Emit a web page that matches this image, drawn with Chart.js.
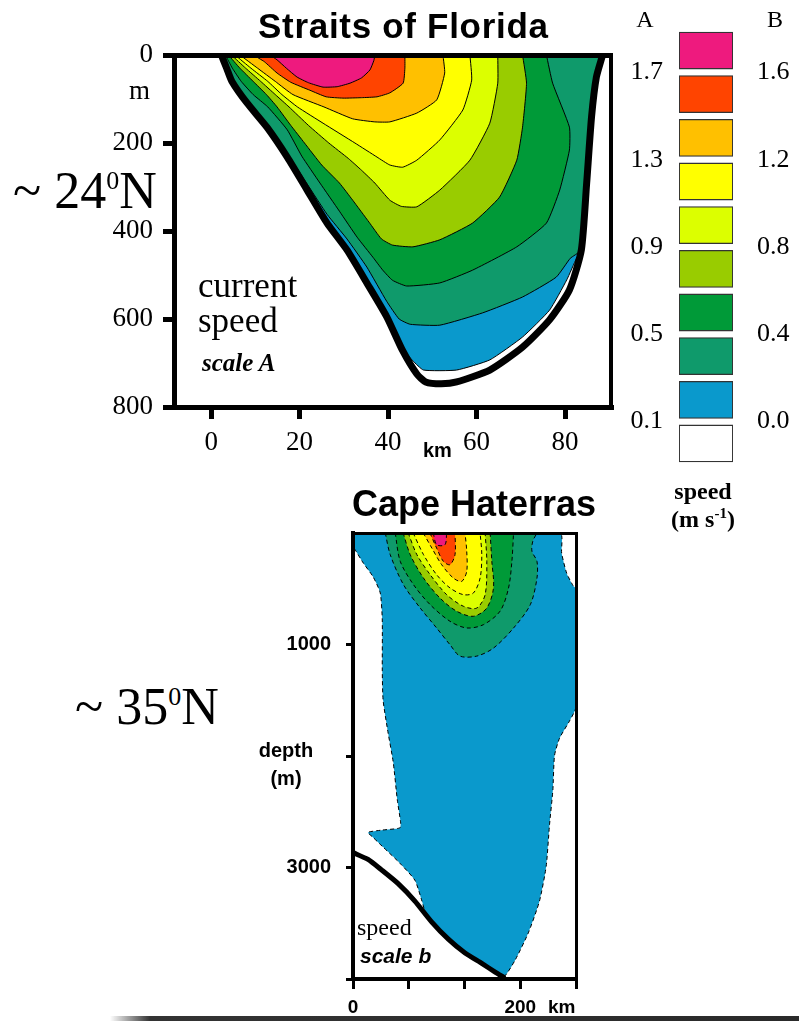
<!DOCTYPE html>
<html>
<head>
<meta charset="utf-8">
<script src="https://cdn.jsdelivr.net/npm/chart.js@4.4.1/dist/chart.umd.min.js"></script>
<style>
  html, body { margin: 0; padding: 0; background: #fff; overflow: hidden; }
  #page { position: relative; width: 799px; height: 1021px; }
  canvas { position: absolute; }
  .t { position: absolute; white-space: nowrap; color: #000; }
  .serif { font-family: 'Liberation Serif', 'Times New Roman', serif; }
  .sans { font-family: 'Liberation Sans', Arial, sans-serif; }
  sup { line-height: 0; }
</style>
</head>
<body>
<div id="page">
  <canvas id="florida" width="640" height="470" style="left:0;top:0"></canvas>
  <canvas id="haterras" width="340" height="501" style="left:250px;top:520px"></canvas>
  <canvas id="legend" width="199" height="480" style="left:600px;top:0"></canvas>

  <div class="t sans" style="left:258px;top:8px;font-weight:bold;font-size:35px;line-height:35px;letter-spacing:0.7px">Straits of Florida</div>
  <div class="t serif" style="right:649px;top:77px;font-size:27px;line-height:27px">m</div>
  <div class="t sans" style="left:423px;top:440px;font-weight:bold;font-size:20px;line-height:20px">km</div>
  <div class="t serif" style="left:198px;top:268px;font-size:35px;line-height:35px">current<br>speed</div>
  <div class="t serif" style="left:202px;top:350px;font-style:italic;font-weight:bold;font-size:25px;line-height:25px">scale A</div>
  <div class="t serif" style="left:13px;top:165px;font-size:52px;line-height:52px">~ 24<sup style="font-size:26px;vertical-align:19px">0</sup>N</div>

  <div class="t serif" style="left:635px;top:7px;width:20px;text-align:center;font-size:24px;line-height:24px">A</div>
  <div class="t serif" style="left:765px;top:7px;width:20px;text-align:center;font-size:24px;line-height:24px">B</div>
  <div class="t serif" style="left:653px;top:477px;width:100px;text-align:center;font-weight:bold;font-size:24px;line-height:28px">speed<br>(m s<sup style="font-size:15px;vertical-align:9px">-1</sup>)</div>

  <div class="t sans" style="left:352px;top:486px;font-weight:bold;font-size:36px;line-height:36px">Cape Haterras</div>
  <div class="t serif" style="left:75px;top:681px;font-size:52px;line-height:52px">~ 35<sup style="font-size:26px;vertical-align:19px">0</sup>N</div>
  <div class="t sans" style="left:236px;top:736px;width:100px;text-align:center;font-weight:bold;font-size:20px;line-height:28px">depth<br>(m)</div>
  <div class="t serif" style="left:357px;top:915px;font-size:24px;line-height:24px">speed</div>
  <div class="t sans" style="left:360px;top:945px;font-style:italic;font-weight:bold;font-size:21px;line-height:21px">scale b</div>
  <div class="t sans" style="left:548px;top:997px;font-weight:bold;font-size:19px;line-height:19px">km</div>
  <div style="position:absolute;left:110px;top:1016px;width:689px;height:5px;background:linear-gradient(to right, rgba(40,40,40,0), #333 40px, #2a2a2a)"></div>
</div>

<script>
// Straits of Florida: [distance km, depth m]
const floridaKmTicks = [0, 20, 40, 60, 80];
const floridaDepthTicks = [0, 200, 400, 600, 800];
const floridaWall = [[2.3,0],[3.5,30],[4.7,60],[8.1,109],[12.6,164],[17.2,232],[21.7,307],[26.2,382],[30.7,443],[35.2,518],[39.7,595],[43.3,672],[46.5,725],[48.5,743],[52,747],[55.5,743],[63,716],[70.4,664],[76.5,602],[81,534],[83.7,443],[84.9,291],[86,141],[87.1,50],[88.5,0]];
const floridaBlue = [[2.3,0],[3.5,30],[4.7,60],[8.1,109],[12.6,164],[17.2,232],[21.7,307],[26.2,382],[30.7,443],[35.2,518],[39.7,595],[43.3,668],[45.6,695],[48,716],[55.5,716],[63,693],[70.4,641],[76.5,580],[80.4,511],[82.6,462],[83.7,443],[84.9,291],[86,141],[87.1,50],[88.5,0]];
const floridaTeal = [[2.3,0],[3.5,30],[4.7,60],[8.1,109],[12.6,164],[17.2,224],[21.7,293],[26.2,362],[30.7,418],[35.2,482],[39.7,560],[42.5,600],[45,612],[51.7,614],[61.4,586],[70.4,550],[78,505],[81.2,462],[83.4,445],[84.9,291],[86,141],[87.1,50],[88.5,0]];
const floridaGreen = [[3.2,0],[4.8,30],[6.8,60],[9.5,90],[12.8,118],[17.2,170],[20.5,230],[24.6,291],[29,355],[33,414],[36.6,460],[38.8,489],[41,512],[44.2,525],[51.7,518],[59.1,489],[69.1,436],[75.8,382],[78.8,307],[81,216],[81,164],[77.2,64],[75.8,0]];
const floridaOlive = [[3.9,0],[6.5,30],[9.5,60],[12.5,90],[14.9,118],[18,160],[21.1,200],[25,250],[29,291],[32,330],[35.7,380],[38.5,418],[41,432],[45.6,436],[51.7,420],[59.1,382],[65.2,323],[69.1,239],[70.4,164],[71.3,64],[70.4,0]];
const floridaLime = [[4.6,0],[7.8,30],[11.2,60],[14.5,90],[17.6,118],[22,160],[26.6,200],[31,235],[34,262],[37,291],[40.4,330],[43,344],[46.5,345],[51.7,307],[58.5,239],[63,155],[64.8,64],[64.8,0]];
const floridaYellow = [[5.4,0],[9,30],[12.8,60],[16,90],[19.5,118],[25.3,155],[32.5,200],[37.5,232],[40.4,250],[43.3,255],[46.5,239],[51.7,193],[56.9,125],[58.9,57],[58.5,0]];
const floridaOrange = [[6.5,0],[10.5,30],[14.5,60],[18.5,90],[25.5,118],[32,145],[37,152],[40.4,152],[46.5,132],[51,102],[52.8,41],[52.4,0]];
const floridaRed = [[9.5,0],[12,15],[14.9,41],[18,62],[22.3,80],[26,95],[29.8,98],[34,97],[37.5,95],[40.4,86],[43.4,64],[43.8,30],[43.8,0]];
const floridaPink = [[13.3,0],[14.9,11],[17,30],[19.4,50],[22,63],[25.3,73],[28.5,72],[31.4,64],[34,52],[35.9,34],[36.8,12],[37,0]];

// Cape Haterras: [distance km, depth m]
const haterrasKmTicks = [0, 66.67, 133.33, 200, 266.67];
const haterrasKmLabels = ['0', '', '', '200', ''];
const haterrasDepthTicks = [1000, 2000, 3000, 4000];
const haterrasDepthLabels = ['1000', '', '3000', ''];
const haterrasBottom = [[0,2866],[18,2928],[34,3021],[54,3145],[74,3301],[94,3487],[114,3643],[134,3767],[154,3860],[170,3938],[180,3984]];
const haterrasBlue = [[0,0],[247.5,0],[249.5,180],[255.5,360],[263,470],[266.7,500],[266.7,1560],[259,1685],[247,1840],[241,1995],[239,2306],[235,2617],[231,2990],[223,3301],[210,3580],[194,3829],[180,3984],[170,3938],[154,3860],[134,3767],[114,3643],[94,3487],[88,3440],[82,3290],[74,3114],[56,2961],[36,2817],[24,2730],[18,2685],[34,2665],[56,2645],[57,2600],[53,2395],[48,2050],[42,1794],[36,1500],[35,1229],[35,780],[32.6,538],[24.2,395],[12.3,269],[2.7,153],[0,120]];
const haterrasTeal = [[38.6,0],[44.5,194],[60.4,464],[80.4,673],[100,852],[116,1002],[128,1104],[148,1104],[168,1032],[192,852],[212,643],[220,404],[220,254],[214,164],[215,74],[220,0]];
const haterrasGreen = [[50.5,0],[56.5,254],[72.4,464],[92.3,643],[116,792],[136,852],[156,822],[176,700],[186,493],[190,254],[192,0]];
const haterrasOlive = [[60,0],[68.4,194],[84.3,404],[104,583],[124,702],[144,747],[160,673],[168,493],[166,254],[164,0]];
const haterrasLime = [[66,0],[76.4,194],[92.3,374],[112,553],[132,657],[148,673],[158,553],[160,254],[158,0]];
const haterrasYellow = [[72,0],[84.3,194],[100,374],[116,493],[132,553],[144,538],[152,404],[154,194],[152,0]];
const haterrasOrange = [[84,0],[94.3,135],[106,284],[120,404],[130,434],[136,344],[136,164],[134,0]];
const haterrasRed = [[92,0],[100,135],[108,254],[116,284],[122,194],[122,0]];
const haterrasPink = [[96,0],[100,105],[110,105],[112,0]];

// colour key, bottom box first
const legendColors = ['#ffffff', '#0a99cc', '#0f9a6b', '#009a38', '#99cc00', '#dcff00', '#ffff00', '#ffc000', '#ff4400', '#ee1a7e'];
const legendTicks = [1, 3, 5, 7, 9];
const scaleA = ['0.1', '0.5', '0.9', '1.3', '1.7'];
const scaleB = ['0.0', '0.4', '0.8', '1.2', '1.6'];

const C = {
  blue: legendColors[1], teal: legendColors[2], green: legendColors[3], olive: legendColors[4],
  lime: legendColors[5], yellow: legendColors[6], orange: legendColors[7], red: legendColors[8], pink: legendColors[9]
};

const pts = arr => arr.map(([x, y]) => ({x, y}));

function band(arr, color, dashed, tension) {
  return {
    data: pts(arr), showLine: true, fill: 'shape',
    backgroundColor: color, borderColor: '#000', borderWidth: 1,
    borderDash: dashed ? [4, 3] : [], pointRadius: 0, tension: tension
  };
}

function bottomLine(arr, width) {
  return {
    data: pts(arr), showLine: true, fill: false, borderColor: '#000',
    borderWidth: width, pointRadius: 0, tension: 0.2,
    borderCapStyle: 'round', borderJoinStyle: 'round'
  };
}

function frameAxis(pos, width) {
  return {
    type: 'linear', position: pos, display: true,
    afterFit: s => { if (s.isHorizontal()) s.height = 0; else s.width = 0; },
    ticks: {display: false},
    grid: {display: false, drawTicks: false},
    border: {display: true, width: width, color: '#000', z: 1}
  };
}

// fixed axis size, and no extra room for labels overhanging the ends
const fixWidth = w => s => { s.width = w; s.paddingTop = 0; s.paddingBottom = 0; };

const noPlugins = {legend: {display: false}, tooltip: {enabled: false}};

// Straits of Florida
new Chart(document.getElementById('florida'), {
  type: 'scatter',
  data: {
    datasets: [
      bottomLine(floridaWall, 7),
      band(floridaPink, C.pink, false, 0.15),
      band(floridaRed, C.red, false, 0.15),
      band(floridaOrange, C.orange, false, 0.15),
      band(floridaYellow, C.yellow, false, 0.15),
      band(floridaLime, C.lime, false, 0.15),
      band(floridaOlive, C.olive, false, 0.15),
      band(floridaGreen, C.green, false, 0.15),
      band(floridaTeal, C.teal, false, 0.15),
      band(floridaBlue, C.blue, false, 0.15)
    ]
  },
  options: {
    animation: false,
    responsive: false,
    layout: {padding: {top: 55, right: 29, bottom: 3, left: 0}},
    plugins: noPlugins,
    scales: {
      x: {
        type: 'linear', min: -8.4, max: 90.4,
        afterBuildTicks: s => { s.ticks = floridaKmTicks.map(v => ({value: v})); },
        afterFit: s => { s.height = 60; },
        ticks: {autoSkip: false, maxRotation: 0, padding: 8, color: '#000',
          font: {family: 'Liberation Serif', size: 27}, callback: v => String(v)},
        grid: {drawOnChartArea: false, tickLength: 12, lineWidth: 5, color: '#000'},
        border: {width: 5, color: '#000', z: 1}
      },
      y: {
        type: 'linear', reverse: true, min: 0, max: 800,
        afterBuildTicks: s => { s.ticks = floridaDepthTicks.map(v => ({value: v})); },
        afterFit: fixWidth(174),
        ticks: {autoSkip: false, padding: 10, color: '#000',
          font: {family: 'Liberation Serif', size: 27}, callback: v => String(v)},
        grid: {drawOnChartArea: false, tickLength: 11, lineWidth: 5, color: '#000'},
        border: {width: 5, color: '#000', z: 1}
      },
      x2: frameAxis('top', 5),
      y2: frameAxis('right', 4)
    }
  }
});

// Cape Haterras
new Chart(document.getElementById('haterras'), {
  type: 'scatter',
  data: {
    datasets: [
      bottomLine(haterrasBottom, 5),
      band(haterrasPink, C.pink, true, 0.3),
      band(haterrasRed, C.red, true, 0.3),
      band(haterrasOrange, C.orange, true, 0.3),
      band(haterrasYellow, C.yellow, true, 0.3),
      band(haterrasLime, C.lime, true, 0.3),
      band(haterrasOlive, C.olive, true, 0.3),
      band(haterrasGreen, C.green, true, 0.3),
      band(haterrasTeal, C.teal, true, 0.3),
      band(haterrasBlue, C.blue, true, 0.2)
    ]
  },
  options: {
    animation: false,
    responsive: false,
    layout: {padding: {top: 13, right: 14, bottom: 0, left: 0}},
    plugins: noPlugins,
    scales: {
      x: {
        type: 'linear', min: 0, max: 266.67,
        afterBuildTicks: s => { s.ticks = haterrasKmTicks.map(v => ({value: v})); },
        afterFit: s => { s.height = 42; },
        ticks: {autoSkip: false, maxRotation: 0, padding: 7, color: '#000',
          font: {family: 'Liberation Sans', weight: 'bold', size: 19},
          callback: (v, i) => haterrasKmLabels[i]},
        grid: {drawOnChartArea: false, tickLength: 10, lineWidth: 3, color: '#000'},
        border: {width: 4, color: '#000', z: 1}
      },
      y: {
        type: 'linear', reverse: true, min: 0, max: 4000,
        afterBuildTicks: s => { s.ticks = haterrasDepthTicks.map(v => ({value: v})); },
        afterFit: fixWidth(103),
        ticks: {autoSkip: false, padding: 15, color: '#000',
          font: {family: 'Liberation Sans', weight: 'bold', size: 20},
          callback: (v, i) => haterrasDepthLabels[i]},
        grid: {drawOnChartArea: false, tickLength: 7, lineWidth: 3, color: '#000'},
        border: {width: 4, color: '#000', z: 1}
      },
      x2: frameAxis('top', 3),
      y2: frameAxis('right', 3)
    }
  }
});

// colour key with scale A (left) and scale B (right)
new Chart(document.getElementById('legend'), {
  type: 'bar',
  data: {
    labels: [''],
    datasets: legendColors.map((c, i) => ({
      data: [[i + 0.075, i + 0.925]],
      backgroundColor: c, borderColor: '#333', borderWidth: 1.3, borderSkipped: false,
      grouped: false, barPercentage: 1, categoryPercentage: 1, yAxisID: 'yA'
    }))
  },
  options: {
    animation: false,
    responsive: false,
    layout: {padding: {top: 28.7, bottom: 14.7, left: 0, right: 0}},
    plugins: noPlugins,
    scales: {
      x: {display: false},
      yA: {
        type: 'linear', position: 'left', min: 0, max: 10,
        afterBuildTicks: s => { s.ticks = legendTicks.map(v => ({value: v})); },
        afterFit: fixWidth(79),
        ticks: {padding: 16, color: '#000', font: {family: 'Liberation Serif', size: 26},
          callback: (v, i) => scaleA[i]},
        grid: {display: false, drawTicks: false},
        border: {display: false}
      },
      yB: {
        type: 'linear', position: 'right', min: 0, max: 10,
        afterBuildTicks: s => { s.ticks = legendTicks.map(v => ({value: v})); },
        afterFit: fixWidth(66),
        ticks: {padding: 24, color: '#000', font: {family: 'Liberation Serif', size: 26},
          callback: (v, i) => scaleB[i]},
        grid: {display: false, drawTicks: false},
        border: {display: false}
      }
    }
  }
});
</script>
</body>
</html>
